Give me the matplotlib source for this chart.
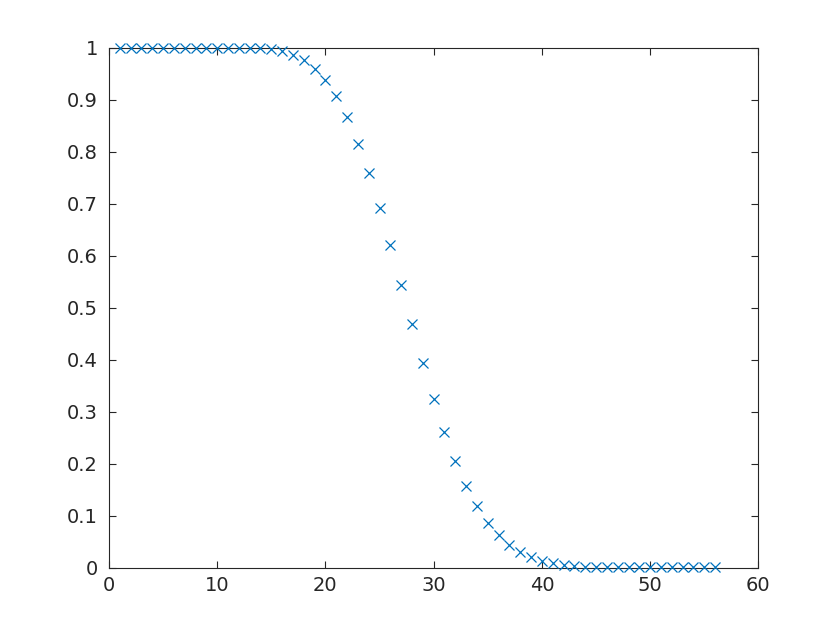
import numpy as np
import matplotlib
matplotlib.use("Agg")
import matplotlib.pyplot as plt

# sample index and value
n = list(range(1, 57))
p = [1.0, 1.0, 1.0, 1.0, 1.0, 1.0, 1.0, 1.0, 1.0, 1.0,
     1.0, 1.0, 0.999, 0.999, 0.997, 0.993, 0.987, 0.976, 0.960, 0.938,
     0.908, 0.867, 0.816, 0.759, 0.692, 0.621, 0.544, 0.469, 0.394, 0.324,
     0.261, 0.206, 0.157, 0.119, 0.087, 0.063, 0.044, 0.030, 0.020, 0.013,
     0.009, 0.006, 0.004, 0.002, 0.001, 0.001, 0.001, 0.001, 0.001, 0.001,
     0.001, 0.001, 0.001, 0.001, 0.001, 0.001]

plt.rcParams['font.family'] = ['DejaVu Sans']
fig = plt.figure(figsize=(8.38, 6.38), dpi=100)
ax = fig.add_axes([0.13, 0.11, 0.775, 0.815])

ax.plot(n, p, linestyle='none', marker='x', color='#0072BD',
        markersize=7, markeredgewidth=0.9, clip_on=False, zorder=3)

ax.set_xlim(0, 60)
ax.set_ylim(0, 1)
ax.set_xticks(np.arange(0, 61, 10))
ax.set_yticks(np.arange(0, 1.01, 0.1))
ax.set_yticklabels(['0', '0.1', '0.2', '0.3', '0.4', '0.5', '0.6', '0.7', '0.8', '0.9', '1'])

for s in ax.spines.values():
    s.set_color('#262626')
    s.set_linewidth(0.8)
ax.tick_params(direction='in', top=True, right=True, length=5, width=0.8,
               colors='#262626', labelsize=14)
ax.tick_params(axis='x', pad=6)
ax.tick_params(axis='y', pad=8)

fig.savefig('out.png', dpi=100)
